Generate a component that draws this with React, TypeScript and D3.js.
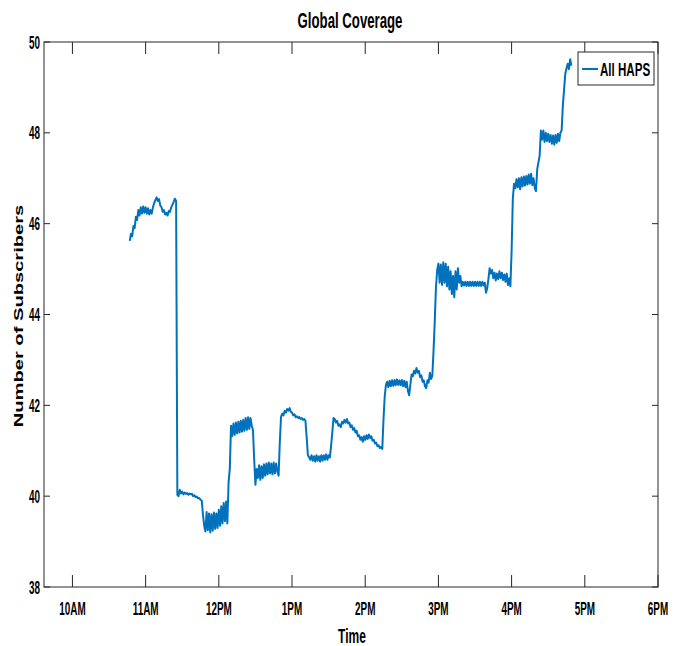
import React from "react";
import * as d3 from "d3";

// Time axis: minutes after 10:00
const xTickLabels = ["10AM", "11AM", "12PM", "1PM", "2PM", "3PM", "4PM", "5PM", "6PM"];
const xTickMinutes = [0, 60, 120, 180, 240, 300, 360, 420, 480];
const yTicks = [38, 40, 42, 44, 46, 48, 50];
const seriesName = "All HAPS";
// first sample at 10:47, one sample per minute
const startMinute = 47;
const subscribers = [
  45.62, 45.78, 45.72, 45.95, 45.9, 46.15, 46.08, 46.3, 46.18, 46.36,
  46.22, 46.38, 46.24, 46.36, 46.22, 46.34, 46.2, 46.3, 46.22, 46.36,
  46.45, 46.52, 46.58, 46.5, 46.54, 46.4, 46.36, 46.26, 46.3, 46.2,
  46.24, 46.18, 46.28, 46.26, 46.36, 46.42, 46.48, 46.55, 46.5,
  // m86
  40.03, 40.0, 40.14, 40.06, 40.1, 40.04, 40.08, 40.05, 40.07, 40.03,
  40.06, 40.04, 40.05, 40.0, 40.02, 39.98, 39.99, 39.95, 39.96, 39.92,
  39.9, 39.6, 39.35,
  // m109
  39.22, 39.65, 39.25, 39.62, 39.2, 39.6, 39.24, 39.64, 39.28, 39.62,
  39.3, 39.7, 39.35, 39.78, 39.4, 39.85, 39.45, 39.88, 39.4, 40.3,
  40.6, 41.55,
  // m131
  41.32, 41.6, 41.35, 41.62, 41.38, 41.64, 41.4, 41.66, 41.42, 41.68,
  41.44, 41.72, 41.46, 41.74, 41.48, 41.72, 41.55, 41.45, 40.8, 40.25,
  40.6,
  // m152
  40.4, 40.68, 40.36, 40.66, 40.4, 40.7, 40.45, 40.72, 40.48, 40.74,
  40.5, 40.72, 40.48, 40.74, 40.5, 40.72, 40.55, 40.45, 41.2, 41.75,
  // m172
  41.82, 41.78, 41.88, 41.84, 41.92, 41.88, 41.94, 41.86, 41.84, 41.78,
  41.8, 41.74, 41.76, 41.72, 41.74, 41.7, 41.72, 41.68, 41.7, 41.66,
  41.3, 40.9,
  // m194
  40.86, 40.8, 40.9, 40.78, 40.88, 40.76, 40.9, 40.78, 40.88, 40.76,
  40.9, 40.78, 40.9, 40.8, 40.92, 40.8, 40.9, 40.85, 41.1, 41.4,
  41.72,
  // m215
  41.7, 41.62, 41.66, 41.55, 41.58, 41.52, 41.64, 41.6, 41.68, 41.62,
  41.7, 41.6, 41.62, 41.52, 41.56, 41.46, 41.5, 41.4, 41.44, 41.32,
  41.34, 41.24, 41.3, 41.2, 41.32, 41.24, 41.34, 41.26, 41.36, 41.28,
  41.32, 41.22, 41.24, 41.16, 41.18, 41.1, 41.12, 41.06, 41.08, 41.04,
  41.7, 42.2, 42.45,
  // m258
  42.52, 42.4, 42.54, 42.42, 42.55, 42.43, 42.56, 42.44, 42.57, 42.45,
  42.55, 42.44, 42.56, 42.42, 42.54, 42.4, 42.52, 42.32, 42.22, 42.45,
  42.68, 42.64,
  // m280
  42.76, 42.7, 42.82, 42.72, 42.76, 42.62, 42.66, 42.52, 42.55, 42.42,
  42.38, 42.55, 42.5, 42.72, 42.58, 42.65, 43.2, 43.85, 44.6, 44.98,
  // m300
  45.12, 44.7, 45.1, 44.65, 45.15, 44.7, 45.12, 44.62, 45.05, 44.55,
  44.95, 44.45, 44.85, 44.38, 44.95, 44.55, 45.02, 44.7, 44.85, 44.62,
  44.72,
  // m321
  44.64, 44.72, 44.63, 44.72, 44.63, 44.72, 44.63, 44.72, 44.63, 44.72,
  44.63, 44.72, 44.63, 44.72, 44.63, 44.72, 44.64, 44.7, 44.48, 44.58,
  44.78, 45.02,
  // m343
  44.9, 44.98, 44.8, 44.92, 44.75, 44.9, 44.78, 44.95, 44.8, 44.92,
  44.76, 44.88, 44.72, 44.9, 44.65, 44.8, 44.62, 45.4, 46.55, 46.88,
  // m363
  46.78, 46.98, 46.8, 47.0, 46.76, 47.02, 46.82, 47.04, 46.84, 47.05,
  46.86, 47.08, 46.88, 47.1, 46.85, 47.0, 46.78, 46.72, 47.2, 47.35,
  47.5, 48.05,
  // m385
  47.85, 48.05, 47.8, 48.0, 47.82, 47.98, 47.8, 47.95, 47.76, 47.94,
  47.74, 47.95, 47.78, 47.98, 47.82, 48.0, 48.05, 48.6, 48.95, 49.3,
  49.42, 49.52, 49.4, 49.62, 49.48,
];

const W = 686;
const H = 646;
const left = 44;
const right = 658;
const top = 42;
const bottom = 587;
const FONT = "'Liberation Sans', Arial, sans-serif";
const AXIS = "#262626";
const BLUE = "#0072BD";

function SText({ x, y, sx = 1, sy = 1, rotate = 0, size, anchor = "middle", children }: any) {
  return (
    <text
      transform={`translate(${x},${y}) rotate(${rotate}) scale(${sx},${sy})`}
      textAnchor={anchor}
      fontFamily={FONT}
      fontWeight="bold"
      fontSize={size}
      fill="#000"
    >
      {children}
    </text>
  );
}

export default function App() {
  const x = d3.scaleLinear().domain([-23.3, 480]).range([left, right]);
  const y = d3.scaleLinear().domain([38, 50]).range([bottom, top]);
  const data = subscribers.map((v, i) => ({ t: startMinute + i, v }));
  const line = d3
    .line<{ t: number; v: number }>()
    .x((d) => x(d.t))
    .y((d) => y(d.v));

  return (
    <svg
      width={W}
      height={H}
      style={{ position: "absolute", left: 0, top: 0, background: "#fff" }}
    >
      <rect x={0} y={0} width={W} height={H} fill="#fff" />
      {/* Title */}
      <SText x={350} y={28} sx={0.6} size={22}>Global Coverage</SText>

      {/* data line */}
      <path d={line(data) || ""} fill="none" stroke={BLUE} strokeWidth={2} strokeLinejoin="round" />

      {/* box */}
      <rect x={left} y={top} width={right - left} height={bottom - top} fill="none" stroke={AXIS} strokeWidth={1} />

      {/* x ticks */}
      {xTickMinutes.map((m, i) => (
        <g key={"xt" + i}>
          <line x1={x(m)} x2={x(m)} y1={bottom} y2={bottom - 12} stroke={AXIS} strokeWidth={1} />
          <line x1={x(m)} x2={x(m)} y1={top} y2={top + 12} stroke={AXIS} strokeWidth={1} />
          <SText x={x(m)} y={615} sx={0.55} size={18}>{xTickLabels[i]}</SText>
        </g>
      ))}

      {/* y ticks */}
      {yTicks.map((t) => (
        <g key={"yt" + t}>
          <line x1={left} x2={left + 6} y1={y(t)} y2={y(t)} stroke={AXIS} strokeWidth={1} />
          <line x1={right} x2={right - 6} y1={y(t)} y2={y(t)} stroke={AXIS} strokeWidth={1} />
          <SText x={40} y={y(t) + 6.5} sx={0.55} size={18} anchor="end">{t}</SText>
        </g>
      ))}

      {/* axis labels */}
      <SText x={352} y={643} sx={0.6} size={20}>Time</SText>
      <SText x={23} y={316} rotate={-90} sx={1.55} size={13}>Number of Subscribers</SText>

      {/* legend */}
      <rect x={578} y={52} width={76} height={33} fill="#fff" stroke={AXIS} strokeWidth={1} />
      <line x1={582} x2={598} y1={69} y2={69} stroke={BLUE} strokeWidth={2} />
      <SText x={600} y={76} sx={0.61} size={19} anchor="start">{seriesName}</SText>
    </svg>
  );
}
